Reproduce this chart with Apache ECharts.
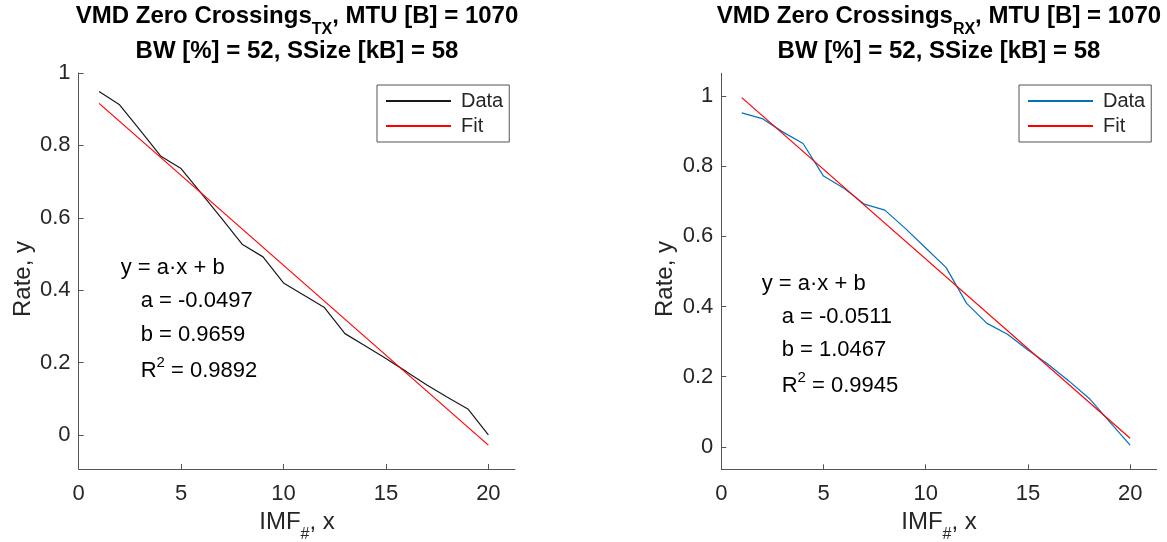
<!DOCTYPE html>
<html><head><meta charset="utf-8">
<script src="https://cdn.jsdelivr.net/npm/echarts@6/dist/echarts.min.js"></script>
<style>html,body{margin:0;padding:0;background:#fff}#c{width:1167px;height:542px}</style>
</head><body><div id="c"></div>
<script>
// ---- data ----
const imf = [1,2,3,4,5,6,7,8,9,10,11,12,13,14,15,16,17,18,19,20];
const txRate = [0.949,0.912,0.842,0.771,0.736,0.667,0.597,0.526,0.492,0.420,0.386,0.352,0.280,0.246,0.211,0.175,0.138,0.104,0.072,0.000];
const rxRate = [0.952,0.936,0.898,0.865,0.772,0.737,0.692,0.675,0.623,0.567,0.511,0.409,0.352,0.321,0.276,0.235,0.188,0.138,0.071,0.005];
const fitX = [1, 20];
const fitTx = [0.9162, -0.0281];
const fitRx = [0.9956, 0.0247];
const xTicks = [0,5,10,15,20];
const yTicks = [0,0.2,0.4,0.6,0.8,1];
const subs = ['TX','RX'];
const titleHead = 'VMD Zero Crossings';
const titleTail = ', MTU [B] = 1070';
const titleLine2 = 'BW [%] = 52, SSize [kB] = 58';
const eqLine = 'y = a\u00b7x + b';
const aTxt = ['a = -0.0497','a = -0.0511'];
const bTxt = ['b = 0.9659','b = 1.0467'];
const r2Txt = ['0.9892','0.9945'];
const xName = ['IMF', '#', ', x'];
const yName = 'Rate, y';
const legendNames = ['Data','Fit'];

// ---- style ----
const FONT = '"Liberation Sans", Arial, Helvetica, sans-serif';
const TXT = '#262626';
const AX = '#555555';
const f = (s, b) => (b ? 'bold ' : '') + s + 'px ' + FONT;

const grids = [
  {left: 78.6, top: 73, width: 436.4, height: 396},
  {left: 721.3, top: 73.3, width: 435.4, height: 396}
];
const yMin = [-0.094, -0.064];
const yMax = [1, 1.065];
const dataColor = ['#1a1a1a', '#0072BD'];

function xAx(i) {
  return {type: 'value', gridIndex: i, min: 0, max: 21.3,
    axisLine: {show: true, onZero: false, lineStyle: {color: AX, width: 1}},
    axisTick: {show: true, inside: true, length: 5, customValues: xTicks, lineStyle: {color: AX}},
    axisLabel: {customValues: xTicks, margin: 14, fontSize: 22, fontFamily: FONT, color: TXT},
    splitLine: {show: false}};
}
function yAx(i) {
  return {type: 'value', gridIndex: i, min: yMin[i], max: yMax[i],
    axisLine: {show: true, onZero: false, lineStyle: {color: AX, width: 1}},
    axisTick: {show: true, inside: true, length: 5, customValues: yTicks, lineStyle: {color: AX}},
    axisLabel: {customValues: yTicks, margin: 8, fontSize: 22, fontFamily: FONT, color: TXT},
    splitLine: {show: false}};
}

const series = [];
[txRate, rxRate].forEach((arr, i) => {
  series.push({name: legendNames[0] + subs[i], type: 'line', xAxisIndex: i, yAxisIndex: i,
    data: imf.map((x, k) => [x, arr[k]]), symbol: 'none', silent: true,
    lineStyle: {color: dataColor[i], width: 1.2}, itemStyle: {color: dataColor[i]}});
  const fv = i === 0 ? fitTx : fitRx;
  series.push({name: legendNames[1] + subs[i], type: 'line', xAxisIndex: i, yAxisIndex: i,
    data: fitX.map((x, k) => [x, fv[k]]), symbol: 'none', silent: true,
    lineStyle: {color: '#ff0000', width: 1.2}, itemStyle: {color: '#ff0000'}});
});

const legendLeft = [377, 1019];
const legends = [0, 1].map(i => ({
  orient: 'vertical', left: legendLeft[i], top: 85, selectedMode: false,
  data: [legendNames[0] + subs[i], legendNames[1] + subs[i]],
  formatter: n => n.slice(0, -2),
  itemWidth: 65, itemHeight: 14, itemGap: 5, padding: [6, 6, 6, 8],
  itemStyle: {opacity: 0, borderWidth: 0},
  borderColor: AX, borderWidth: 1, backgroundColor: '#fff',
  textStyle: {fontSize: 20, fontFamily: FONT, color: TXT, padding: [0, 0, 0, 5]}
}));

const titleCx = [297, 939];
const eqLeft = [120.7, 761.7];
const eqY = [[268, 301, 335, 371], [284, 317, 350, 386]];
const yNameX = [23.4, 665];
const graphic = [];
[0, 1].forEach(i => {
  graphic.push({type: 'text', x: titleCx[i], y: 16, silent: true, style: {
    text: titleHead + '{s|' + subs[i] + '}' + titleTail,
    font: f(24, true), fill: '#000', align: 'center', verticalAlign: 'middle',
    rich: {s: {font: f(16, true), fill: '#000', padding: [28, 0, 0, 0]}}}});
  graphic.push({type: 'text', x: titleCx[i], y: 51, silent: true, style: {
    text: titleLine2, font: f(24, true), fill: '#000', align: 'center', verticalAlign: 'middle'}});
  graphic.push({type: 'text', x: eqLeft[i], y: eqY[i][0], silent: true, style: {
    text: eqLine, font: f(22), fill: '#000', align: 'left', verticalAlign: 'middle'}});
  graphic.push({type: 'text', x: eqLeft[i] + 20, y: eqY[i][1], silent: true, style: {
    text: aTxt[i], font: f(22), fill: '#000', align: 'left', verticalAlign: 'middle'}});
  graphic.push({type: 'text', x: eqLeft[i] + 20, y: eqY[i][2], silent: true, style: {
    text: bTxt[i], font: f(22), fill: '#000', align: 'left', verticalAlign: 'middle'}});
  graphic.push({type: 'text', x: eqLeft[i] + 20, y: eqY[i][3], silent: true, style: {
    text: 'R{p|2} = ' + r2Txt[i], font: f(22), fill: '#000', align: 'left', verticalAlign: 'middle',
    rich: {p: {font: f(15), fill: '#000', padding: [0, 0, 16, 0]}}}});
  graphic.push({type: 'text', x: titleCx[i], y: 522, silent: true, style: {
    text: xName[0] + '{s|' + xName[1] + '}' + xName[2], font: f(24), fill: TXT,
    align: 'center', verticalAlign: 'middle',
    rich: {s: {font: f(16), fill: TXT, padding: [26, 0, 0, 0]}}}});
  graphic.push({type: 'text', x: yNameX[i], y: 279, rotation: Math.PI / 2, silent: true, style: {
    text: yName, font: f(24), fill: TXT, align: 'center', verticalAlign: 'middle'}});
});

const chart = echarts.init(document.getElementById('c'), null, {renderer: 'canvas'});
chart.setOption({
  animation: false,
  backgroundColor: '#fff',
  grid: grids.map(g => Object.assign({containLabel: false, outerBoundsMode: 'none'}, g)),
  xAxis: [xAx(0), xAx(1)],
  yAxis: [yAx(0), yAx(1)],
  legend: legends,
  series: series,
  graphic: graphic
});
</script>
</body></html>
